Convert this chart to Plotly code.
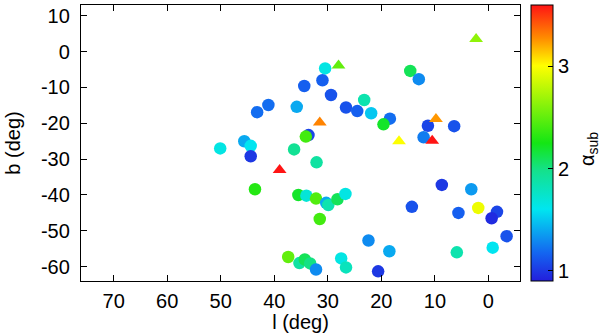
import plotly.graph_objects as go

# circles: galactic longitude / latitude / alpha_sub
circ_l = [30.5, 31.0, 34.4, 29.4, 26.6, 24.5, 23.2, 21.9, 18.4, 19.6,
          14.6, 13.0, 11.3, 6.4, 12.1, 33.6, 34.1, 32.1, 41.1, 43.2,
          35.8, 50.1, 45.6, 44.4, 44.4, 36.3, 43.6, 35.5, 34.0, 32.2,
          30.3, 29.9, 28.2, 26.7, 31.5, 37.4, 35.3, 34.3, 33.3, 32.2,
          27.5, 26.6, 22.4, 18.5, 20.6, 8.7, 3.2, 14.3, 5.6, 1.9,
          -1.6, -0.6, -3.4, 5.9, -0.8]
circ_b = [-4.7, -8.0, -9.6, -12.1, -15.6, -16.6, -13.5, -17.2, -18.7, -20.3,
          -5.4, -7.7, -20.7, -20.8, -23.9, -23.3, -23.7, -30.9, -14.9, -16.9,
          -15.4, -27.0, -25.0, -26.3, -29.2, -27.3, -38.4, -40.0, -40.2, -41.0,
          -42.2, -42.8, -41.2, -39.7, -46.7, -57.3, -59.0, -58.0, -59.1, -60.8,
          -57.7, -60.2, -52.7, -55.7, -61.3, -37.2, -38.4, -43.3, -45.0, -43.6,
          -44.7, -46.5, -51.5, -56.0, -54.7]
circ_a = [1.65, 1.15, 1.15, 1.1, 1.1, 1.15, 1.85, 1.5, 1.2, 2.2,
          2.1, 1.3, 1.05, 1.1, 1.25, 1.05, 2.4, 1.9, 1.2, 1.2,
          1.4, 1.65, 1.4, 1.6, 1.0, 1.95, 2.3, 2.2, 1.7, 2.45,
          1.4, 1.85, 2.1, 1.65, 2.4, 2.5, 1.9, 2.1, 2.0, 1.3,
          1.65, 1.8, 1.3, 1.4, 1.0, 1.0, 1.35, 1.1, 1.15, 2.95,
          1.05, 0.95, 1.1, 1.85, 1.6]

# triangles
tri_l = [2.3, 28.0, 31.5, 9.8, 10.5, 16.7, 39.0]
tri_b = [3.5, -3.9, -19.8, -18.8, -24.9, -25.0, -33.0]
tri_a = [2.65, 2.5, 3.3, 3.25, 3.6, 3.0, 3.6]

xticks = [70, 60, 50, 40, 30, 20, 10, 0]
yticks = [10, 0, -10, -20, -30, -40, -50, -60]
cticks = [1, 2, 3]

jet = [
    [0.0, "rgb(35,30,220)"],
    [0.1, "rgb(20,100,240)"],
    [0.26, "rgb(0,230,240)"],
    [0.4, "rgb(20,225,140)"],
    [0.5, "rgb(20,230,20)"],
    [0.78, "rgb(255,255,0)"],
    [0.88, "rgb(255,140,0)"],
    [1.0, "rgb(255,20,20)"],
]

fnt = "Liberation Sans, Arial, sans-serif"
fs = 20

fig = go.Figure()
fig.add_scatter(x=circ_l, y=circ_b, mode="markers",
                marker=dict(symbol="circle", size=12.5, color=circ_a,
                            coloraxis="coloraxis", line=dict(width=0)))
fig.add_scatter(x=tri_l, y=tri_b, mode="markers",
                marker=dict(symbol="triangle-up", size=12, color=tri_a,
                            coloraxis="coloraxis", line=dict(width=0)))

axis_common = dict(showgrid=False, zeroline=False, showline=True,
                   linecolor="black", linewidth=1.3, mirror="ticks",
                   ticks="inside", ticklen=6, tickcolor="black", tickwidth=1,
                   tickfont=dict(size=fs, color="black"),
                   title_font=dict(size=fs, color="black"))

fig.update_xaxes(range=[76.1, -5.9], tickvals=xticks,
                 ticktext=[str(v) for v in xticks],
                 title=dict(text="l (deg)", standoff=0),
                 ticklabelstandoff=2, **axis_common)
fig.update_yaxes(range=[-64.0, 13.0], tickvals=yticks,
                 ticktext=[str(v) for v in yticks],
                 title=dict(text="b (deg)", standoff=14),
                 ticklabelstandoff=6, **axis_common)

fig.update_layout(
    width=600, height=333,
    paper_bgcolor="white", plot_bgcolor="white",
    font=dict(family=fnt, size=fs, color="black"),
    margin=dict(l=81, r=80, t=5, b=52, autoexpand=False),
    showlegend=False,
    coloraxis=dict(
        colorscale=jet, cmin=0.9, cmax=3.6,
        colorbar=dict(
            x=1.025, xanchor="left", y=0.5, yanchor="middle",
            len=1.0, lenmode="fraction", thickness=22,
            outlinewidth=1, outlinecolor="black",
            tickvals=cticks, ticktext=[str(v) for v in cticks],
            ticks="inside", ticklen=5, tickcolor="black",
            tickfont=dict(size=fs, color="black"),
            xpad=0, ypad=0,
        ),
    ),
)

# colour bar title, vertical like the original
fig.add_annotation(text="\u03b1<sub>sub</sub>", xref="paper", yref="paper",
                   x=1.155, y=0.478, xanchor="center", yanchor="middle",
                   textangle=-90, showarrow=False,
                   font=dict(size=fs, color="black"))

# page has a default 8px body margin; drop it so the figure fills the window
fig.write_html("out.html", config={"displayModeBar": False},
               post_script="document.body.style.margin='0px';")
